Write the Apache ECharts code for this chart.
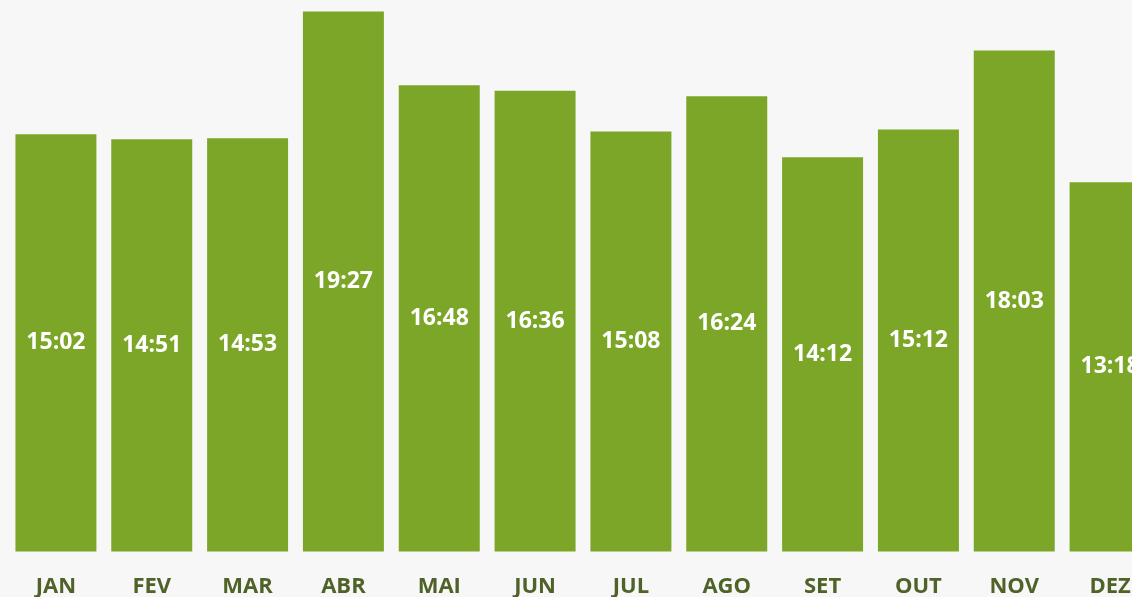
<!DOCTYPE html>
<html>
<head>
<meta charset="utf-8">
<script src="https://cdn.jsdelivr.net/npm/echarts@6/dist/echarts.min.js"></script>
<style>
  html, body { margin: 0; padding: 0; background: #f7f7f7; }
  #chart { width: 1132px; height: 597px; }
</style>
</head>
<body>
<div id="chart"></div>
<script>
// months and times (mm:ss)
var months = ['JAN', 'FEV', 'MAR', 'ABR', 'MAI', 'JUN', 'JUL', 'AGO', 'SET', 'OUT', 'NOV', 'DEZ'];
var times = ['15:02', '14:51', '14:53', '19:27', '16:48', '16:36', '15:08', '16:24', '14:12', '15:12', '18:03', '13:18'];

function toSec(t) {
    var p = t.split(':');
    return parseInt(p[0], 10) * 60 + parseInt(p[1], 10);
}
function fmt(v) {
    var m = Math.floor(v / 60), s = v % 60;
    return m + ':' + (s < 10 ? '0' + s : s);
}
var values = times.map(toSec);

var myChart = echarts.init(document.getElementById('chart'));
var option = {
    backgroundColor: '#f7f7f7',
    animation: false,
    grid: {
        left: 8,
        right: -26,
        top: 0,
        bottom: 45.5,
        outerBoundsMode: 'none'
    },
    xAxis: {
        type: 'category',
        data: months,
        axisLine: { show: false },
        axisTick: { show: false },
        axisLabel: {
            margin: 24,
            color: '#4f6228',
            fontFamily: 'Open Sans',
            fontWeight: 'bold',
            fontSize: 22
        }
    },
    yAxis: {
        type: 'value',
        min: 0,
        max: 1192,
        show: false,
        splitLine: { show: false }
    },
    series: [
        {
            type: 'bar',
            data: values,
            barCategoryGap: '15.5%',
            itemStyle: { color: '#7ca628' },
            label: {
                show: true,
                position: 'inside',
                color: '#ffffff',
                fontFamily: 'Open Sans',
                fontWeight: 'bold',
                fontSize: 23,
                formatter: function (p) { return fmt(p.value); }
            }
        }
    ]
};
myChart.setOption(option);
</script>
</body>
</html>
